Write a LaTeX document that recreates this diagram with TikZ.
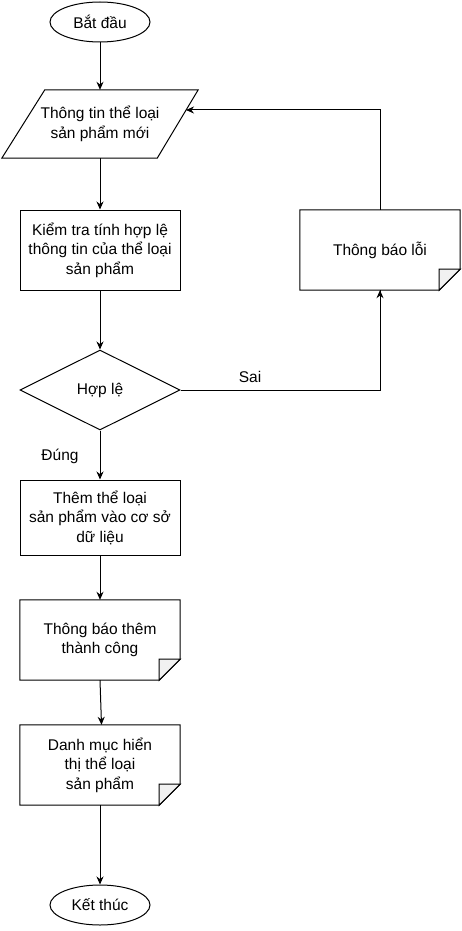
\documentclass[tikz,border=0pt]{standalone}
\usepackage{fontspec}
\setmainfont{Liberation Sans}
\usetikzlibrary{arrows.meta,shapes.geometric}
\definecolor{foldgray}{HTML}{F1F1F1}
\newcommand\foldbox[1]{%
  \draw[shp] (#1.north west) -- (#1.north east) -- ([yshift=21pt]#1.south east) -- ([xshift=-21pt]#1.south east) -- (#1.south west) -- cycle;
  \filldraw[shp, fill=foldgray] ([yshift=21pt]#1.south east) -- ([xshift=-21pt]#1.south east) -- ([xshift=-21pt,yshift=21pt]#1.south east) -- cycle;}
\begin{document}
\begin{tikzpicture}[x=1pt,y=-1pt,
  every node/.style={font=\fontsize{15.5}{19.5}\selectfont, align=center, text=black},
  shp/.style={draw=black, line width=1pt, line join=miter},
  arr/.style={draw=black, line width=1pt, -{Stealth[length=8pt,width=7pt]}},
  term/.style={shp, ellipse, minimum width=100pt, minimum height=40pt, inner sep=0pt},
  procbox/.style={shp, rectangle, minimum width=160pt, minimum height=80pt, inner sep=0pt},
  plainbox/.style={rectangle, minimum width=160pt, minimum height=80pt, inner sep=0pt},
  decision/.style={shp, diamond, minimum width=160pt, minimum height=80pt, inner sep=0pt},
  lbl/.style={font=\fontsize{15.5}{19.5}\selectfont}
]
\fill[white] (0,0) rectangle (461,931);
\useasboundingbox (0,0) rectangle (461,931);

\node[term] (start) at (100,22) {Bắt đầu};

\node[rectangle, minimum width=196pt, minimum height=68pt, inner sep=0pt] (inp) at (100,124) {Thông tin thể loại\\sản phẩm mới};
\draw[shp] ([xshift=43pt]inp.north west) -- (inp.north east) -- ([xshift=-41pt]inp.south east) -- (inp.south west) -- cycle;
\coordinate (inpin) at (186,110);

\node[procbox] (check) at (100,250) {Kiểm tra tính hợp lệ\\thông tin của thể loại\\sản phẩm};

\node[decision] (dec) at (100,390) {Hợp lệ};

\node[plainbox] (err) at (380,250) {Thông báo lỗi};
\foldbox{err}

\node[procbox, minimum height=75pt] (add) at (100,517.5) {Thêm thể loại\\sản phẩm vào cơ sở\\dữ liệu};

\node[plainbox] (ok) at (100,640) {Thông báo thêm\\thành công};
\foldbox{ok}

\node[plainbox] (list) at (100,765) {Danh mục hiển\\thị thể loại\\sản phẩm};
\foldbox{list}

\node[term] (end) at (100,905) {Kết thúc};

\draw[arr] (start) -- (inp);
\draw[arr] (inp.south) -- (check);
\draw[arr] (check) -- (dec);
\draw[shp] (dec.east) -| (err.south);
\draw[arr] (dec.east -| err.south) -- (err.south);
\draw[arr] (err.north) |- (inpin);
\draw[arr] (dec) -- (add);
\draw[arr] (add) -- (ok);
\draw[arr] (ok.south) -- ([xshift=1.5pt]list.north);
\draw[arr] (list) -- (end);

\node[lbl] (sai) at (250,377) {Sai};
\node[lbl] (dung) at (60,456) {Đúng};
\end{tikzpicture}
\end{document}
